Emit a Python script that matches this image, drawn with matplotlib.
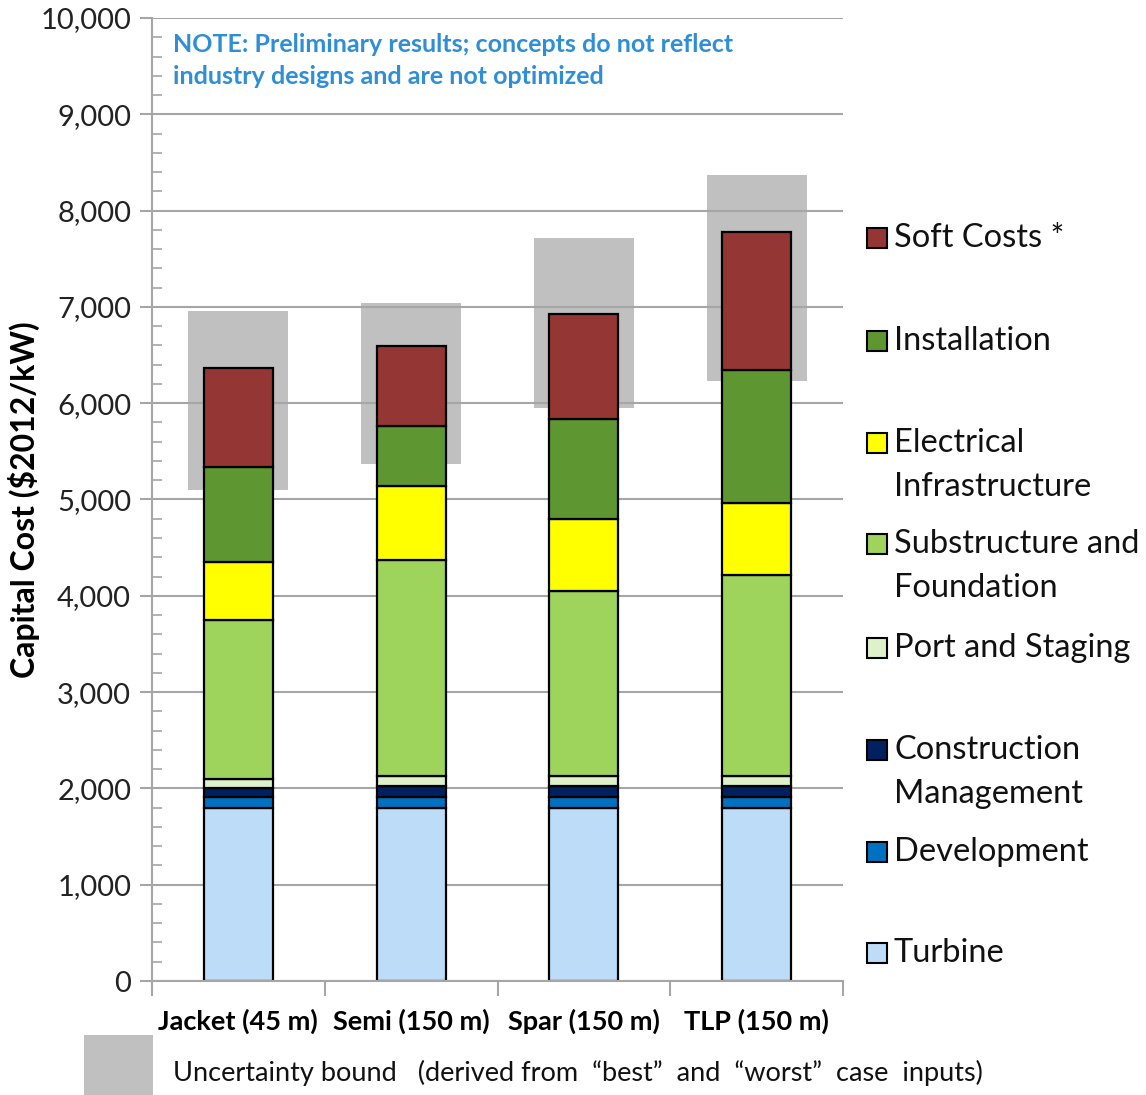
import matplotlib
matplotlib.use("Agg")
import matplotlib.pyplot as plt
from matplotlib.patches import Rectangle
import numpy as np

plt.rcParams['font.family'] = ['Lato', 'DejaVu Sans']

# data ($2012/kW)
categories = ['Jacket (45 m)', 'Semi (150 m)', 'Spar (150 m)', 'TLP (150 m)']
turbine = [1800, 1800, 1800, 1800]
development = [110, 110, 110, 110]
construction = [95, 115, 115, 115]
port = [95, 100, 100, 100]
substructure = [1650, 2250, 1920, 2090]
electrical = [605, 765, 755, 745]
installation = [985, 625, 1035, 1385]
soft = [1025, 830, 1090, 1435]
bound_low = [5100, 5365, 5945, 6230]
bound_high = [6955, 7040, 7715, 8365]

series = [
    ('Turbine', turbine, '#BDDCF8'),
    ('Development', development, '#0070C0'),
    ('Construction\nManagement', construction, '#002060'),
    ('Port and Staging', port, '#DDF2C8'),
    ('Substructure and\nFoundation', substructure, '#9ED35C'),
    ('Electrical\nInfrastructure', electrical, '#FFFF00'),
    ('Installation', installation, '#5E9732'),
    ('Soft Costs *', soft, '#943634'),
]
# legend rows (centre y of first line, in pixels), top to bottom
legend_rows = [238, 341, 443, 544, 648, 750, 852, 953]

W, H = 1146, 1095
fig = plt.figure(figsize=(W / 100, H / 100), dpi=100)
ax = fig.add_axes([152 / W, 1 - 981 / H, (843 - 152) / W, (981 - 18) / H])


def px(x, y):
    return x / W, 1 - y / H


x = np.arange(len(categories))
grey = '#A6A6A6'

# uncertainty bounds behind the bars
ax.bar(x, np.array(bound_high) - np.array(bound_low), bottom=bound_low,
       width=0.58, color='#C0C0C0', zorder=0.3)

bottom = np.zeros(len(categories))
for name, vals, col in series:
    ax.bar(x, vals, bottom=bottom, width=0.4, color=col,
           edgecolor='black', linewidth=1.6, zorder=2)
    bottom += np.array(vals)

ax.set_xlim(-0.5, 3.5)
ax.set_ylim(0, 10000)
ax.set_axisbelow(True)
ax.yaxis.grid(True, color=grey, linewidth=1.5)
ax.set_yticks(np.arange(0, 10001, 1000))
ax.set_yticks(np.arange(0, 10001, 200), minor=True)
ax.set_yticklabels([f'{v:,}' for v in range(0, 10001, 1000)])
ax.tick_params(axis='y', which='major', length=9, width=1.5, color=grey,
               labelsize=21, labelcolor='#222222', pad=6)
ax.tick_params(axis='y', which='minor', direction='in', length=7,
               width=1.2, color=grey)

ax.set_xticks(x)
ax.set_xticklabels(categories, fontsize=19.5, fontweight='bold')
ax.set_xticks(np.arange(-0.5, 4, 1), minor=True)
ax.tick_params(axis='x', which='major', length=0, pad=20)
ax.tick_params(axis='x', which='minor', length=11, width=1.5, color=grey)

for s in ['top', 'right']:
    ax.spines[s].set_visible(False)
for s in ['left', 'bottom']:
    ax.spines[s].set_color(grey)
    ax.spines[s].set_linewidth(1.5)

ax.set_ylabel('Capital Cost ($2012/kW)', fontsize=23, fontweight='bold',
              labelpad=0)

# note at the top
note = ['NOTE: Preliminary results; concepts do not reflect',
        'industry designs and are not optimized']
for i, line in enumerate(note):
    fig.text(*px(173, 45 + i * 32), line, color='#2E8FD6', fontsize=18,
             fontweight='bold', va='center')

# legend, drawn by hand
names = [s[0] for s in series][::-1]
cols = [s[2] for s in series][::-1]
for name, col, y in zip(names, cols, legend_rows):
    fig.patches.append(Rectangle(px(867, y + 10), 20 / W, 20 / H,
                                 transform=fig.transFigure, facecolor=col,
                                 edgecolor='black', linewidth=1.5))
    for i, line in enumerate(name.split('\n')):
        fig.text(*px(894, y + i * 44), line, fontsize=23.5, va='center',
                 color='#111111')

# uncertainty bound key
fig.patches.append(Rectangle(px(84, 1095), 69 / W, 60 / H,
                             transform=fig.transFigure, facecolor='#C0C0C0'))
fig.text(*px(173, 1073),
         'Uncertainty bound   (derived from  \u201cbest\u201d  and  \u201cworst\u201d  case  inputs)',
         fontsize=19.5, va='center', color='#111111')

fig.savefig('out.png', dpi=100)
